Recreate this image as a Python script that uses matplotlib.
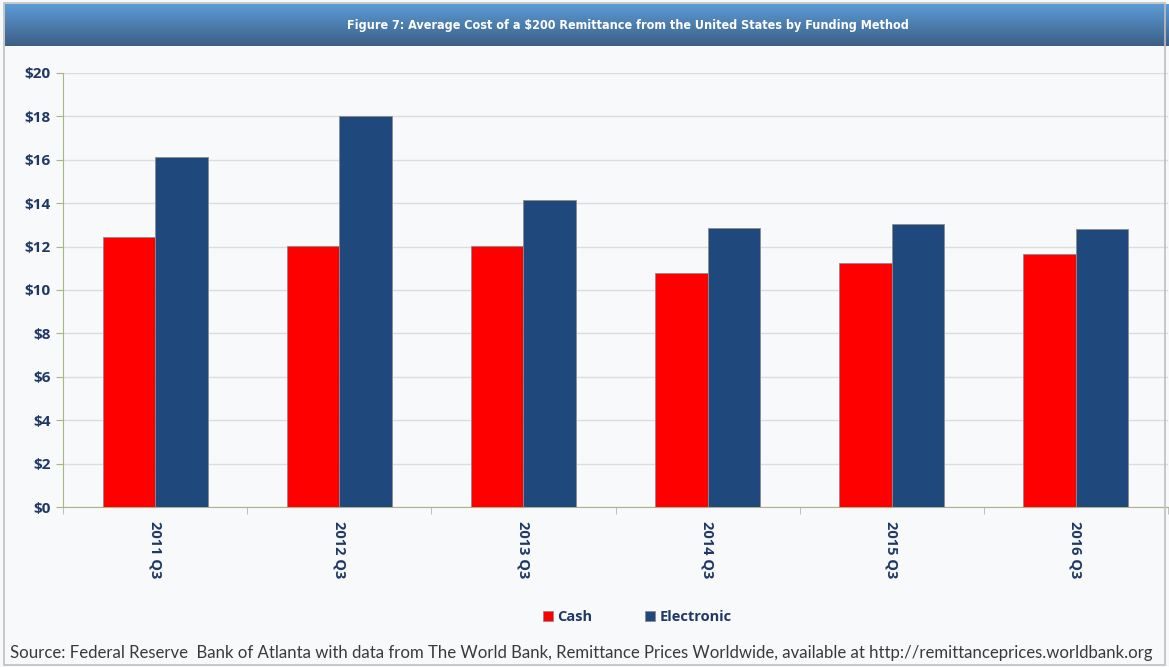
import numpy as np
import matplotlib
matplotlib.use("Agg")
import matplotlib.pyplot as plt
from matplotlib.patches import Rectangle

# ---- data ----
quarters   = ["2011 Q3", "2012 Q3", "2013 Q3", "2014 Q3", "2015 Q3", "2016 Q3"]
cash       = [12.45, 12.05, 12.02, 10.78, 11.24, 11.68]
electronic = [16.12, 18.02, 14.15, 12.87, 13.04, 12.82]
y_ticks    = list(range(0, 21, 2))

title  = "Figure 7: Average Cost of a $200 Remittance from the United States by Funding Method"
source = ("Source: Federal Reserve  Bank of Atlanta with data from The World Bank, Remittance Prices "
          "Worldwide, available at http://remittanceprices.worldbank.org")

RED   = "#ff0000"
NAVY  = "#1f497d"
TXT   = "#1f3864"
BG    = "#f8f9fb"
BOLD  = ["Open Sans", "DejaVu Sans"]
FONT  = ["Lato", "DejaVu Sans"]

fig = plt.figure(figsize=(11.69, 6.67), dpi=100)
fig.patch.set_facecolor(BG)

# outer frame
fig.add_artist(Rectangle((0.003, 0.003), 0.994, 0.992, transform=fig.transFigure,
                         fill=False, edgecolor="#bfbfbf", lw=1.2))

# title banner with vertical gradient
bax = fig.add_axes([0.004, 1 - 46 / 667, 0.996, 42 / 667])
grad = np.linspace(0, 1, 64).reshape(-1, 1)
cmap = matplotlib.colors.LinearSegmentedColormap.from_list("banner", ["#5b9bd5", "#3d5f86"])
bax.imshow(grad, aspect="auto", cmap=cmap, extent=[0, 1, 0, 1])
bax.set_axis_off()
fig.text(628 / 1169, 1 - 25 / 667, title, ha="center", va="center", color="white", fontsize=9,
         fontweight="bold", fontstretch="condensed", family=["DejaVu Sans", "Liberation Sans"])

# main plot
ax = fig.add_axes([63 / 1169, 1 - 507 / 667, 1105 / 1169, 434 / 667])
ax.set_facecolor(BG)
x = np.arange(len(quarters))
w = 0.285
ax.bar(x - w / 2, cash, w, color=RED, edgecolor="#8c8c8c", lw=0.6, label="Cash", zorder=3)
ax.bar(x + w / 2, electronic, w, color=NAVY, edgecolor="#8c8c8c", lw=0.6, label="Electronic", zorder=3)

ax.set_xlim(-0.5, len(quarters) - 0.5)
ax.set_ylim(0, 20)
ax.set_yticks(y_ticks)
ax.set_yticklabels([f"${v}" for v in y_ticks], fontsize=11, fontweight="bold", color=TXT, family=BOLD)
ax.set_xticks(x)
ax.set_xticklabels(quarters, rotation=270, fontsize=10.5, fontweight="bold", color=TXT,
                   family=BOLD, va="top", ha="center")
ax.set_xticks(np.arange(-0.5, len(quarters), 1), minor=True)
ax.tick_params(axis="x", which="major", length=0, pad=10)
ax.tick_params(axis="x", which="minor", length=5, color="#b5b5b5", direction="out")
ax.tick_params(axis="y", length=5, color="#a9b87f", pad=4)
ax.grid(axis="y", color="#dcdcdc", lw=1, zorder=0)

for s in ["top", "right"]:
    ax.spines[s].set_visible(False)
ax.spines["left"].set_color("#a9b87f")
ax.spines["bottom"].set_color("#b0b08a")

leg = fig.legend(loc="center", bbox_to_anchor=(0.545, 1 - 617 / 667), ncol=2, frameon=False,
                 handlelength=0.7, handleheight=0.7, columnspacing=3.6, handletextpad=0.3,
                 prop={"family": BOLD, "weight": "bold", "size": 10.5})
for t in leg.get_texts():
    t.set_color(TXT)

fig.text(10 / 1169, 1 - 653 / 667, source, ha="left", va="center", fontsize=12.1,
         color="#3a3a3a", family=FONT)

fig.savefig("out.png", dpi=100, facecolor=fig.get_facecolor())
